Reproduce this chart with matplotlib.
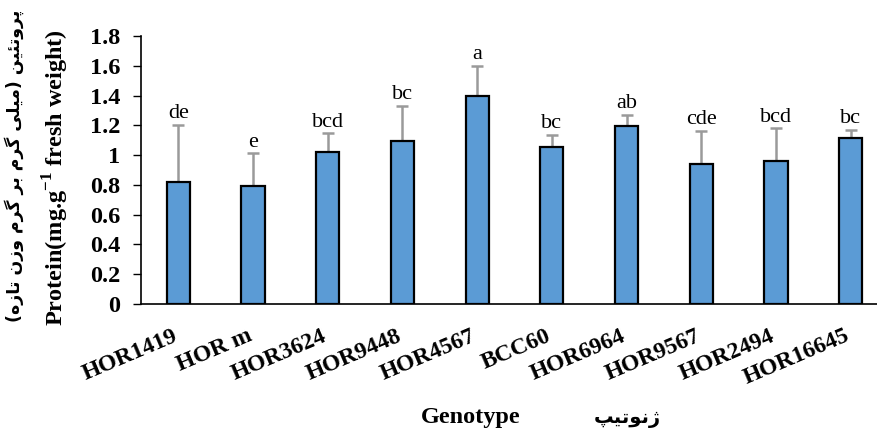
import matplotlib
matplotlib.use("Agg")
import matplotlib.pyplot as plt
import numpy as np

genotypes = ["HOR1419", "HOR m", "HOR3624", "HOR9448", "HOR4567",
             "BCC60", "HOR6964", "HOR9567", "HOR2494", "HOR16645"]
protein = [0.817, 0.792, 1.019, 1.097, 1.397, 1.057, 1.195, 0.940, 0.960, 1.117]
err_up = [0.385, 0.220, 0.127, 0.233, 0.200, 0.078, 0.074, 0.224, 0.220, 0.051]
letters = ["de", "e", "bcd", "bc", "a", "bc", "ab", "cde", "bcd", "bc"]
yticks = [0, 0.2, 0.4, 0.6, 0.8, 1, 1.2, 1.4, 1.6, 1.8]
ytick_labels = ["0", "0.2", "0.4", "0.6", "0.8", "1", "1.2", "1.4", "1.6", "1.8"]

fa_ylabel = "پروتئین (میلی گرم بر گرم وزن تازه)"
fa_xlabel = "ژنوتیپ"

# contextual forms (isolated, final, initial, medial) for the letters used
FORMS = {
    "ا": (0xFE8D, 0xFE8E), "ب": (0xFE8F, 0xFE90, 0xFE91, 0xFE92),
    "پ": (0xFB56, 0xFB57, 0xFB58, 0xFB59), "ت": (0xFE95, 0xFE96, 0xFE97, 0xFE98),
    "ر": (0xFEAD, 0xFEAE), "ز": (0xFEAF, 0xFEB0), "ژ": (0xFB8A, 0xFB8B),
    "ل": (0xFEDD, 0xFEDE, 0xFEDF, 0xFEE0), "م": (0xFEE1, 0xFEE2, 0xFEE3, 0xFEE4),
    "ن": (0xFEE5, 0xFEE6, 0xFEE7, 0xFEE8), "ه": (0xFEE9, 0xFEEA, 0xFEEB, 0xFEEC),
    "و": (0xFEED, 0xFEEE), "ی": (0xFBFC, 0xFBFD, 0xFBFE, 0xFBFF),
    "گ": (0xFB92, 0xFB93, 0xFB94, 0xFB95), "ئ": (0xFE89, 0xFE8A, 0xFE8B, 0xFE8C),
}


def shape_fa(s):
    out = []
    for i, c in enumerate(s):
        if c not in FORMS:
            out.append({"(": ")", ")": "("}.get(c, c))
            continue
        prev = s[i - 1] if i > 0 else ""
        nxt = s[i + 1] if i + 1 < len(s) else ""
        join_prev = prev in FORMS and len(FORMS[prev]) == 4
        join_next = len(FORMS[c]) == 4 and nxt in FORMS
        f = FORMS[c]
        if join_prev and join_next:
            k = 3
        elif join_prev:
            k = 1
        elif join_next:
            k = 2
        else:
            k = 0
        out.append(chr(f[k]))
    return "".join(out[::-1])


plt.rcParams["font.family"] = ["Liberation Serif", "DejaVu Sans"]
plt.rcParams["mathtext.fontset"] = "custom"
plt.rcParams["mathtext.rm"] = "Liberation Serif"
plt.rcParams["mathtext.bf"] = "Liberation Serif:bold"

fig = plt.figure(figsize=(8.78, 4.30), dpi=100)
ax = fig.add_axes([141 / 878, (430 - 304) / 430, 747 / 878, 268 / 430])

x = np.arange(len(genotypes))
ax.bar(x, protein, width=0.31, color="#5B9BD5", edgecolor="black", linewidth=1.6, zorder=2)
ax.errorbar(x, protein, yerr=[np.zeros(len(x)), err_up], fmt="none",
            ecolor="#9a9a9a", elinewidth=1.8, capsize=4, capthick=1.8, zorder=1)

for xi, v, e, lab in zip(x, protein, err_up, letters):
    ax.text(xi, v + e + 0.012, lab, ha="center", va="bottom", fontsize=16,
            family="Liberation Serif")

ax.set_xlim(-0.5, 9.5)
ax.set_ylim(0, 1.8)
ax.set_yticks(yticks)
ax.set_yticklabels(ytick_labels, fontsize=17.5, fontweight="bold")
ax.set_xticks(x)
ax.set_xticklabels(genotypes, fontsize=17, fontweight="bold", rotation=23,
                   ha="right", va="baseline", rotation_mode="anchor")
ax.tick_params(axis="x", length=0, pad=26)
ax.tick_params(axis="y", length=6, width=1, pad=9, direction="out")

for sp in ["top", "right"]:
    ax.spines[sp].set_visible(False)
for sp in ["left", "bottom"]:
    ax.spines[sp].set_linewidth(1.2)
    ax.spines[sp].set_color("black")

fig.text(56 / 878, 1 - 178 / 430, r"Protein(mg.g$^{\mathbf{-1}}$ fresh weight)",
         rotation=90, ha="center", va="center", fontsize=17.5, fontweight="bold")
fig.text(14 / 878, 1 - 166 / 430, shape_fa(fa_ylabel), rotation=90,
         ha="center", va="center", fontsize=12.5, fontweight="bold",
         family=["DejaVu Sans"])

fig.text(471 / 878, 1 - 418 / 430, "Genotype", ha="center", va="center",
         fontsize=17.5, fontweight="bold")
fig.text(627 / 878, 1 - 418 / 430, shape_fa(fa_xlabel), ha="center", va="center",
         fontsize=14, fontweight="bold", family=["DejaVu Sans"])

fig.savefig("out.png", dpi=100)
